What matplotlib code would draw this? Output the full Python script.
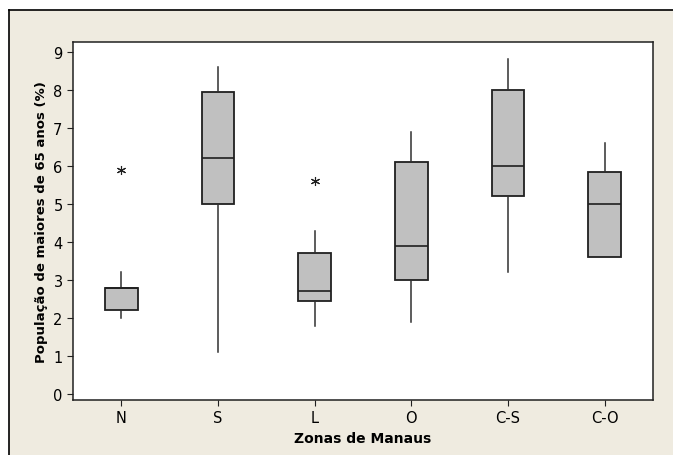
import numpy as np
import matplotlib.pyplot as plt
from matplotlib.patches import Rectangle
from matplotlib.lines import Line2D

# Box plot statistics (%)
zonas = ['N', 'S', 'L', 'O', 'C-S', 'C-O']
whislo = [2.0, 1.1, 1.8, 1.9, 3.2, 3.6]
q1 = [2.2, 5.0, 2.45, 3.0, 5.2, 3.6]
med = [2.8, 6.2, 2.72, 3.9, 6.0, 5.0]
q3 = [2.8, 7.95, 3.7, 6.1, 8.0, 5.85]
whishi = [3.2, 8.6, 4.3, 6.9, 8.8, 6.6]
outliers = [[5.9], [], [5.6], [], [], []]

stats = []
for i in range(len(zonas)):
    stats.append(dict(label=zonas[i], whislo=whislo[i], q1=q1[i], med=med[i],
                      q3=q3[i], whishi=whishi[i], fliers=outliers[i]))

W, H = 673, 456
fig = plt.figure(figsize=(W / 100, H / 100), dpi=100)
fig.patch.set_facecolor('white')

# beige frame (Minitab style)
fig.patches.append(Rectangle((9 / W, 0), 1, (H - 11) / H, transform=fig.transFigure,
                             facecolor='#efebe0', edgecolor='none', zorder=-10))
fig.lines.append(Line2D([9 / W, 9 / W], [0, (H - 11) / H], transform=fig.transFigure,
                        color='black', lw=1.2))
fig.lines.append(Line2D([9 / W, 1], [(H - 11) / H, (H - 11) / H], transform=fig.transFigure,
                        color='black', lw=1.2))

ax = fig.add_axes([73 / W, 1 - 401 / H, 580 / W, 358 / H])
ax.set_facecolor('white')

ax.bxp(stats, positions=np.arange(1, 7), widths=0.34, patch_artist=True,
       showcaps=False,
       boxprops=dict(facecolor='#c0c0c0', edgecolor='#202020', linewidth=1.3),
       medianprops=dict(color='#202020', linewidth=1.2),
       whiskerprops=dict(color='#303030', linewidth=1.1),
       flierprops=dict(marker=(6, 2, 0), markersize=6.5, markeredgecolor='#202020',
                       markeredgewidth=0.8, linestyle='none'))

ax.set_xlim(0.5, 6.5)
ax.set_ylim(-0.16, 9.26)
ax.set_yticks(range(10))
ax.set_xticks(np.arange(1, 7))
ax.set_xticklabels(zonas)
ax.tick_params(axis='both', labelsize=10.5, length=4, color='#202020', direction='out')
for s in ax.spines.values():
    s.set_linewidth(1.1)
    s.set_color('#202020')

ax.set_xlabel('Zonas de Manaus', fontsize=10, fontweight='bold', labelpad=4)
ax.set_ylabel('População de maiores de 65 anos (%)', fontsize=9.5, fontweight='bold', labelpad=4)

plt.savefig('out.png', dpi=100)
